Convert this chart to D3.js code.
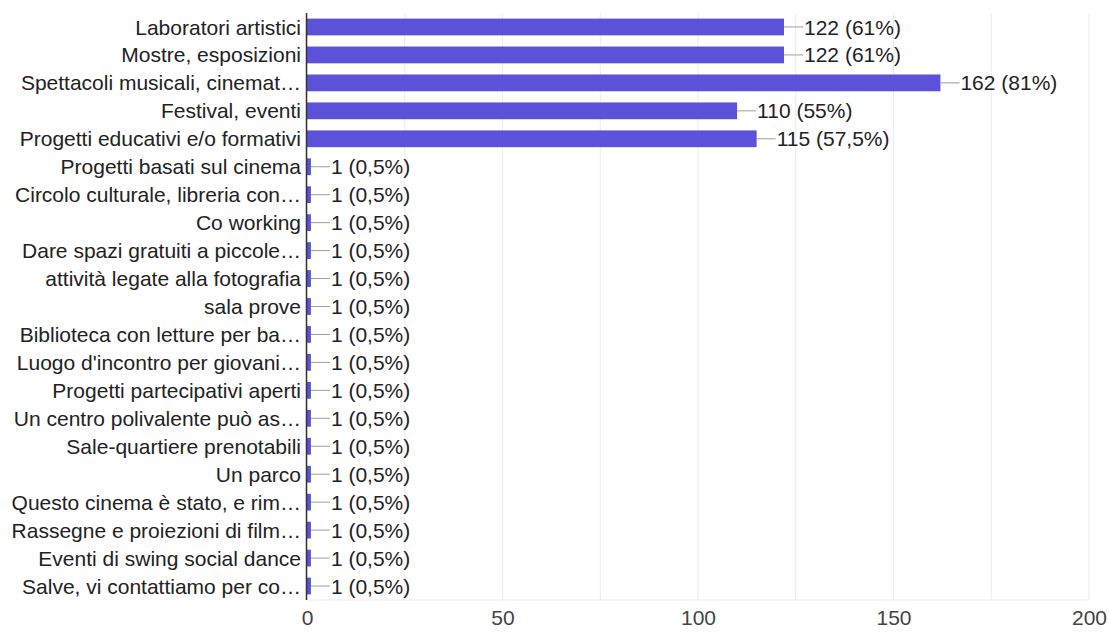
<!DOCTYPE html>
<html>
<head>
<meta charset="utf-8">
<script src="https://cdn.jsdelivr.net/npm/d3@7"></script>
<style>
  html, body { margin: 0; padding: 0; background: #fff; }
  svg { display: block; font-family: "Liberation Sans", Arial, Helvetica, sans-serif; }
</style>
</head>
<body>
<svg id="chart" width="1109" height="633"></svg>
<script>
const categories = [
  "Laboratori artistici",
  "Mostre, esposizioni",
  "Spettacoli musicali, cinemat…",
  "Festival, eventi",
  "Progetti educativi e/o formativi",
  "Progetti basati sul cinema",
  "Circolo culturale, libreria con…",
  "Co working",
  "Dare spazi gratuiti a piccole…",
  "attività legate alla fotografia",
  "sala prove",
  "Biblioteca con letture per ba…",
  "Luogo d'incontro per giovani…",
  "Progetti partecipativi aperti",
  "Un centro polivalente può as…",
  "Sale-quartiere prenotabili",
  "Un parco",
  "Questo cinema è stato, e rim…",
  "Rassegne e proiezioni di film…",
  "Eventi di swing social dance",
  "Salve, vi contattiamo per co…"
];
const counts = [122, 122, 162, 110, 115, 1, 1, 1, 1, 1, 1, 1, 1, 1, 1, 1, 1, 1, 1, 1, 1];
const percents = ["61%", "61%", "81%", "55%", "57,5%", "0,5%", "0,5%", "0,5%", "0,5%", "0,5%", "0,5%",
  "0,5%", "0,5%", "0,5%", "0,5%", "0,5%", "0,5%", "0,5%", "0,5%", "0,5%", "0,5%"];
const tickValues = [0, 50, 100, 150, 200];
const gridValues = [0, 25, 50, 75, 100, 125, 150, 175, 200];

const svg = d3.select("#chart");
const margin = { left: 307, right: 20, top: 13, bottom: 33 };
const W = 1109, H = 633;
const FS = 21;

const x = d3.scaleLinear().domain([0, 200]).range([margin.left, W - margin.right]);
const y = d3.scaleBand().domain(categories).range([margin.top, H - margin.bottom]).paddingInner(0.4).paddingOuter(0.2);

// vertical gridlines
svg.append("g").selectAll("line").data(gridValues).join("line")
  .attr("x1", d => x(d)).attr("x2", d => x(d))
  .attr("y1", margin.top).attr("y2", H - margin.bottom)
  .attr("stroke", "#ebebeb").attr("stroke-width", 1);
// bottom border of plot
svg.append("line")
  .attr("x1", margin.left).attr("x2", x(200))
  .attr("y1", H - margin.bottom).attr("y2", H - margin.bottom)
  .attr("stroke", "#ebebeb");

const rows = categories.map((c, i) => ({ c, v: counts[i], p: percents[i] }));

// bars
svg.append("g").selectAll("rect").data(rows).join("rect")
  .attr("x", x(0))
  .attr("y", d => y(d.c))
  .attr("width", d => Math.max(0, x(d.v) - x(0)))
  .attr("height", y.bandwidth())
  .attr("fill", "#5b52d9");

// leader lines
svg.append("g").selectAll("line").data(rows).join("line")
  .attr("x1", d => x(d.v)).attr("x2", d => x(d.v) + 19)
  .attr("y1", d => y(d.c) + y.bandwidth() / 2).attr("y2", d => y(d.c) + y.bandwidth() / 2)
  .attr("stroke", "#9e9e9e").attr("stroke-width", 1);

// value labels
svg.append("g").selectAll("text").data(rows).join("text")
  .attr("x", d => x(d.v) + 20)
  .attr("y", d => y(d.c) + y.bandwidth() / 2)
  .attr("dy", "0.36em")
  .attr("font-size", FS)
  .attr("fill", "#222")
  .text(d => `${d.v} (${d.p})`);

// category labels
svg.append("g").selectAll("text").data(rows).join("text")
  .attr("x", margin.left - 6)
  .attr("y", d => y(d.c) + y.bandwidth() / 2)
  .attr("dy", "0.36em")
  .attr("text-anchor", "end")
  .attr("font-size", FS)
  .attr("fill", "#222")
  .text(d => d.c);

// left axis line
svg.append("line")
  .attr("x1", margin.left - 0.5).attr("x2", margin.left - 0.5)
  .attr("y1", margin.top).attr("y2", H - margin.bottom)
  .attr("stroke", "#333").attr("stroke-width", 1.5);

// x tick labels
const xAxis = d3.axisBottom(x).tickValues(tickValues).tickSize(0).tickPadding(10);
const gx = svg.append("g").attr("transform", `translate(0,${H - margin.bottom})`).call(xAxis);
gx.select(".domain").remove();
gx.selectAll("text").attr("font-size", FS).attr("fill", "#444")
  .attr("font-family", "'Liberation Sans', Arial, sans-serif");
</script>
</body>
</html>
